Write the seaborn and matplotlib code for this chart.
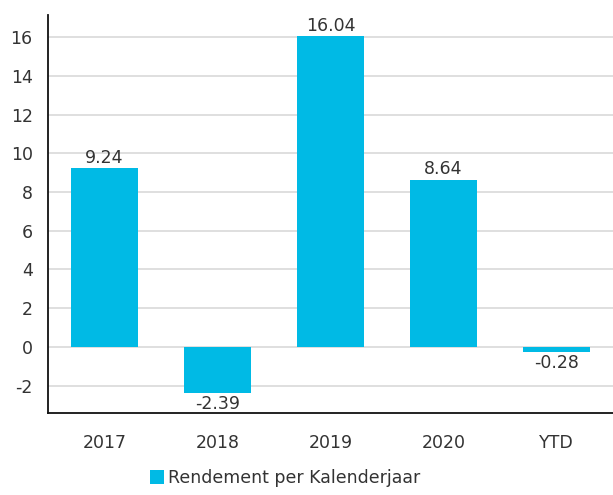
import matplotlib
matplotlib.use('Agg')
import matplotlib.pyplot as plt
from matplotlib.patches import Patch
import seaborn as sns
import pandas as pd

# DATA
categories = ['2017', '2018', '2019', '2020', 'YTD']
returns = [9.24, -2.39, 16.04, 8.64, -0.28]
series_name = 'Rendement per Kalenderjaar'

bar_color = '#00BAE5'
text_color = '#333333'

sns.set_style('white')
plt.rcParams['font.family'] = ['DejaVu Sans']
plt.rcParams['axes.unicode_minus'] = False

df = pd.DataFrame({'Jaar': categories, 'Rendement': returns})

fig = plt.figure(figsize=(6.13, 4.95), dpi=100)
ax = fig.add_axes([48 / 613, 1 - 413 / 495, 565 / 613, (413 - 15) / 495])

sns.barplot(data=df, x='Jaar', y='Rendement', color=bar_color, saturation=1,
            width=0.6, linewidth=0, ax=ax, zorder=3)

ax.set_xlim(-0.5, 4.5)
ax.set_ylim(-3.41, 17.14)
ax.set_yticks(range(-2, 17, 2))
ax.yaxis.grid(True, color='#dcdcdc', linewidth=1.3, zorder=0)
ax.set_axisbelow(True)
ax.set_xlabel('')
ax.set_ylabel('')

for side in ['top', 'right']:
    ax.spines[side].set_visible(False)
for side in ['left', 'bottom']:
    ax.spines[side].set_color('#111111')
    ax.spines[side].set_linewidth(1.3)

ax.tick_params(axis='y', length=0, pad=11, labelsize=12.5, labelcolor=text_color)
ax.tick_params(axis='x', length=0, pad=15, labelsize=12.5, labelcolor=text_color)

# value labels
for i, v in enumerate(returns):
    if v >= 0:
        ax.annotate(f'{v:.2f}', (i, v), xytext=(0, 1), textcoords='offset points',
                    ha='center', va='bottom', fontsize=12.5, color=text_color)
    else:
        ax.annotate(f'{v:.2f}', (i, v), xytext=(0, -1), textcoords='offset points',
                    ha='center', va='top', fontsize=12.5, color=text_color)

fig.legend(handles=[Patch(facecolor=bar_color, edgecolor='none', label=series_name)],
           loc='center', bbox_to_anchor=(285 / 613, 1 - 478 / 495), frameon=False,
           fontsize=12.5, handlelength=0.8, handleheight=0.8, handletextpad=0.2,
           labelcolor=text_color)

fig.savefig('out.png', dpi=100)
